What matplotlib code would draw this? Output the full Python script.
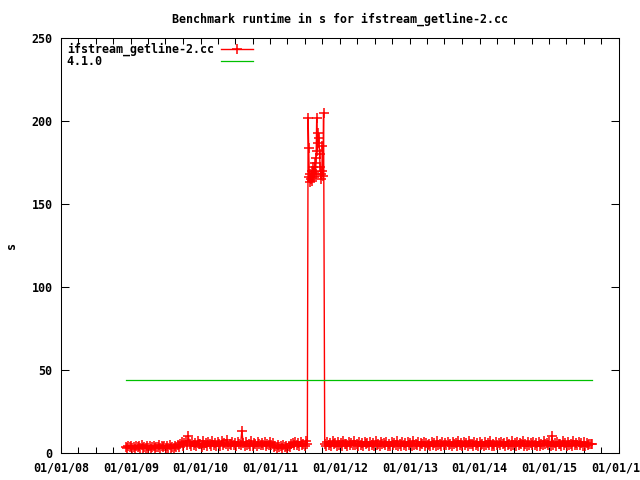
import matplotlib
matplotlib.use('Agg')
import matplotlib.pyplot as plt
import matplotlib.dates as mdates
import pandas as pd

# --- data ---
pre_start = '2008-12-04'          # weekly runs before the slow period
pre_values = [
    3.7, 2.8, 4.2, 3.4, 4.5, 3.1, 3.9, 2.6, 4.3, 3.5,
    4.0, 2.9, 4.6, 3.3, 3.8, 3.0, 4.4, 3.2, 4.1, 2.7,
    3.6, 4.5, 3.1, 3.8, 3.4, 4.8, 2.9, 4.2, 3.5, 4.0,
    2.8, 4.4, 3.3, 4.7, 3.2, 3.9, 3.0, 4.3, 3.6, 4.9,
    3.4, 5.2, 6.5, 4.3, 5.8, 7.4, 4.6, 10.0, 5.4, 4.0,
    6.7, 4.9, 6.1, 4.2, 7.3, 5.3, 5.6, 3.9, 7.0, 4.8,
    6.3, 4.4, 6.8, 5.5, 4.1, 7.5, 5.0, 5.9, 4.5, 6.6,
    5.4, 4.3, 7.1, 4.7, 6.0, 5.2, 7.7, 4.2, 5.7, 4.9,
    6.4, 4.6, 6.2, 4.0, 6.9, 5.5, 4.8, 13.5, 5.8, 4.4,
    6.7, 5.1, 5.6, 4.1, 7.2, 4.5, 6.0, 5.3, 4.3, 6.5,
    5.4, 4.8, 6.1, 4.6, 6.8, 4.2, 5.7, 5.0, 6.4, 4.7,
    5.9, 3.8, 4.5, 3.3, 5.0, 3.6, 4.2, 3.1, 4.7, 3.4,
    4.0, 3.2, 4.4, 3.7, 5.3, 6.2, 4.6, 6.9, 5.1, 5.8,
    4.3, 6.6, 4.9, 5.5, 4.4, 7.0, 5.2,
]

spike_start = '2011-07-18'        # every 3 days during the regression
spike_values = [
    202, 184, 166, 163, 168, 165, 170, 164, 167, 172,
    166, 169, 175, 168, 178, 202, 182, 187, 193, 190,
    180, 172, 168, 165, 170, 185, 167, 205,
]

post_start = '2011-10-13'         # weekly runs after the fix
post_values = [
    5.6, 4.3, 6.8, 5.0, 6.2, 4.5, 7.3, 5.2, 5.8, 4.1,
    6.6, 4.8, 6.0, 4.4, 7.0, 5.3, 5.7, 4.2, 6.4, 4.9,
    6.1, 4.6, 7.4, 5.1, 5.5, 4.0, 6.7, 4.7, 6.3, 4.4,
    6.9, 5.2, 5.8, 4.3, 6.5, 5.0, 5.9, 4.5, 7.1, 4.8,
    5.6, 4.2, 6.4, 5.3, 6.0, 4.6, 6.8, 4.4, 5.7, 4.1,
    6.6, 4.9, 6.2, 4.7, 7.2, 4.5, 5.4, 4.3, 6.7, 5.1,
    5.9, 4.4, 6.5, 4.8, 6.1, 4.2, 7.0, 5.0, 5.6, 4.6,
    6.4, 4.3, 5.8, 5.2, 6.9, 4.5, 6.3, 4.7, 5.5, 4.0,
    6.7, 4.9, 6.0, 4.4, 7.3, 5.1, 5.7, 4.2, 6.5, 4.8,
    6.2, 4.6, 6.8, 5.0, 5.4, 4.3, 6.6, 5.3, 5.9, 4.5,
    7.1, 4.7, 6.1, 4.1, 6.4, 4.9, 5.8, 4.4, 7.0, 5.2,
    5.6, 4.2, 6.7, 4.8, 6.3, 4.5, 6.9, 5.0, 5.5, 4.3,
    6.5, 5.1, 6.0, 4.6, 7.2, 4.4, 5.7, 4.0, 6.8, 4.9,
    6.2, 4.7, 6.4, 5.3, 5.9, 4.2, 6.6, 4.8, 5.4, 4.5,
    7.0, 5.0, 6.1, 4.3, 6.7, 4.6, 5.8, 5.2, 7.3, 4.4,
    5.5, 4.1, 6.9, 4.9, 6.3, 4.7, 6.5, 5.1, 6.0, 4.2,
    6.8, 4.5, 5.7, 4.8, 7.1, 5.3, 6.2, 4.6, 6.4, 4.3,
    10.0, 5.0, 5.9, 4.4, 6.6, 5.2, 5.6, 4.1, 7.0, 4.7,
    6.1, 4.5, 6.7, 4.9, 5.4, 4.3, 7.2, 5.1, 5.8, 4.6,
    6.5, 4.8, 6.0, 4.2, 6.9, 4.4, 6.3, 5.0, 5.7, 5.3,
    5.5,
]

ref_label = '4.1.0'
ref_value = 44.0

series_label = 'ifstream_getline-2.cc'
title = 'Benchmark runtime in s for ifstream_getline-2.cc'

# --- build the series ---
dates = list(pd.date_range(pre_start, periods=len(pre_values), freq='7D'))
dates += list(pd.date_range(spike_start, periods=len(spike_values), freq='3D'))
dates += list(pd.date_range(post_start, periods=len(post_values), freq='7D'))
values = pre_values + spike_values + post_values
ref_dates = [dates[0], dates[-1]]

# --- figure, gnuplot look ---
font = {'family': 'DejaVu Sans Mono', 'weight': 'bold', 'size': 8.4}
plt.rcParams['font.family'] = 'DejaVu Sans Mono'
plt.rcParams['font.weight'] = 'bold'
plt.rcParams['font.size'] = 8.4

fig = plt.figure(figsize=(6.4, 4.8), dpi=100)
ax = fig.add_axes([61 / 640, 27 / 480, 558 / 640, 415 / 480])

ax.plot(dates, values, color='#ff0000', lw=1.0, marker='+',
        markersize=6.5, markeredgewidth=1.1, label=series_label)
ax.plot(ref_dates, [ref_value, ref_value], color='#00c000', lw=0.9,
        label=ref_label.ljust(len(series_label)))

ax.set_xlim(pd.Timestamp('2008-01-01'), pd.Timestamp('2016-01-01'))
ax.set_ylim(0, 250)
ax.set_yticks(range(0, 251, 50))
ax.xaxis.set_major_locator(mdates.YearLocator())
ax.xaxis.set_major_formatter(mdates.DateFormatter('%m/%d/%y'))
ax.xaxis.set_minor_locator(mdates.MonthLocator(bymonth=[4, 7, 10]))

ax.tick_params(axis='both', which='both', direction='in', top=True, right=True,
               width=0.75, colors='black')
ax.tick_params(axis='x', which='both', length=4, pad=6)
ax.tick_params(axis='y', which='major', length=6, pad=6)
for sp in ax.spines.values():
    sp.set_linewidth(0.75)

ax.set_title(title, fontdict=font, pad=11)
ax.set_ylabel('s', fontdict=font, labelpad=10)

leg = ax.legend(loc='upper left', bbox_to_anchor=(0.0116, 0.988), frameon=False,
                markerfirst=False, handlelength=2.75, handletextpad=0.53,
                borderpad=0, borderaxespad=0, labelspacing=-0.11)

fig.savefig('out.png', dpi=100)
